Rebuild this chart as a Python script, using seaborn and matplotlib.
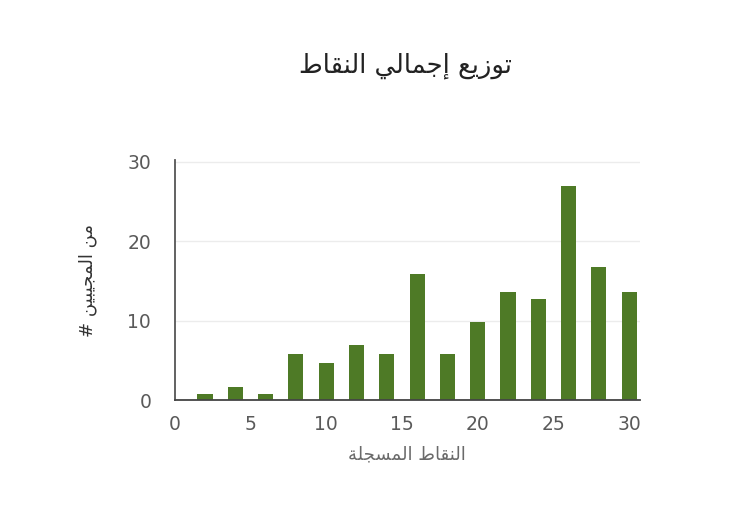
import matplotlib
matplotlib.use("Agg")
import matplotlib.pyplot as plt
import seaborn as sns
import pandas as pd

# ---- data ----
points = [2, 4, 6, 8, 10, 12, 14, 16, 18, 20, 22, 24, 26, 28, 30]
counts = [0.8, 1.7, 0.8, 5.8, 4.7, 6.9, 5.8, 15.9, 5.8, 9.8, 13.6, 12.7, 26.9, 16.8, 13.6]
x_ticks = [0, 5, 10, 15, 20, 25, 30]
y_ticks = [0, 10, 20, 30]
title_text = "توزيع إجمالي النقاط"
xlabel_text = "النقاط المسجلة"
ylabel_text = "# من المجيبين"

# ---- minimal Arabic shaping (presentation forms) + visual ordering ----
FORMS = {  # isolated, final, initial, medial
    'ا': ('\uFE8D', '\uFE8E', None, None),
    'إ': ('\uFE87', '\uFE88', None, None),
    'ب': ('\uFE8F', '\uFE90', '\uFE91', '\uFE92'),
    'ت': ('\uFE95', '\uFE96', '\uFE97', '\uFE98'),
    'ة': ('\uFE93', '\uFE94', None, None),
    'ج': ('\uFE9D', '\uFE9E', '\uFE9F', '\uFEA0'),
    'ز': ('\uFEAF', '\uFEB0', None, None),
    'س': ('\uFEB1', '\uFEB2', '\uFEB3', '\uFEB4'),
    'ط': ('\uFEC1', '\uFEC2', '\uFEC3', '\uFEC4'),
    'ع': ('\uFEC9', '\uFECA', '\uFECB', '\uFECC'),
    'ق': ('\uFED5', '\uFED6', '\uFED7', '\uFED8'),
    'ل': ('\uFEDD', '\uFEDE', '\uFEDF', '\uFEE0'),
    'م': ('\uFEE1', '\uFEE2', '\uFEE3', '\uFEE4'),
    'ن': ('\uFEE5', '\uFEE6', '\uFEE7', '\uFEE8'),
    'و': ('\uFEED', '\uFEEE', None, None),
    'ي': ('\uFEF1', '\uFEF2', '\uFEF3', '\uFEF4'),
}


def shape_word_forms(text):
    out = []
    n = len(text)
    for i, ch in enumerate(text):
        if ch not in FORMS:
            out.append(ch)
            continue
        f = FORMS[ch]
        prev = text[i - 1] if i > 0 else None
        nxt = text[i + 1] if i + 1 < n else None
        join_prev = prev in FORMS and FORMS[prev][2] is not None
        join_next = nxt in FORMS and f[2] is not None
        if join_prev and join_next:
            out.append(f[3])
        elif join_prev:
            out.append(f[1])
        elif join_next:
            out.append(f[2])
        else:
            out.append(f[0])
    return ''.join(out)


def visual(text):
    """Shape Arabic letters and reverse each Arabic run (LTR paragraph)."""
    shaped = shape_word_forms(text)
    res = []
    i = 0
    n = len(text)
    while i < n:
        if text[i] in FORMS:
            j = i
            last = i
            while j < n and (text[j] in FORMS or text[j] == ' '):
                if text[j] in FORMS:
                    last = j
                j += 1
            res.append(shaped[i:last + 1][::-1])
            i = last + 1
        else:
            res.append(shaped[i])
            i += 1
    return ''.join(res)


sns.set_theme(style="white")
plt.rcParams['font.family'] = ['DejaVu Sans']

fig = plt.figure(figsize=(7.5, 5.25), dpi=100)
ax = fig.add_axes([0.233, 0.238, 0.62, 0.457])

df = pd.DataFrame({"points": points, "count": counts})
sns.barplot(data=df, x="points", y="count", native_scale=True, width=0.5,
            color="#4e7a26", saturation=1, ax=ax, zorder=3,
            linewidth=0, edgecolor="none")

ax.set_xlim(0, 30.7)
ax.set_ylim(0, 30.2)
ax.set_xticks(x_ticks)
ax.set_yticks(y_ticks)
ax.grid(axis="y", color="#ececec", linewidth=1, zorder=0)
ax.grid(axis="x", visible=False)
for s in ["top", "right"]:
    ax.spines[s].set_visible(False)
ax.spines["left"].set_color("#555555")
ax.spines["left"].set_linewidth(1.3)
ax.spines["bottom"].set_color("#444444")
ax.spines["bottom"].set_linewidth(1.3)
ax.spines["left"].set_zorder(4)
ax.spines["bottom"].set_zorder(4)
ax.tick_params(axis="both", length=0, labelsize=13.5, labelcolor="#5a5a5a")
ax.tick_params(axis="y", pad=17)
ax.tick_params(axis="x", pad=11)

ax.set_xlabel(visual(xlabel_text), fontsize=13, color="#6a6a6a", labelpad=8)
ax.set_ylabel(visual(ylabel_text), fontsize=13, color="#333333", labelpad=22)

fig.text(0.54, 0.875, visual(title_text), fontsize=18.5, color="#222222",
         ha="center", va="center")

fig.savefig("out.png", dpi=100)
